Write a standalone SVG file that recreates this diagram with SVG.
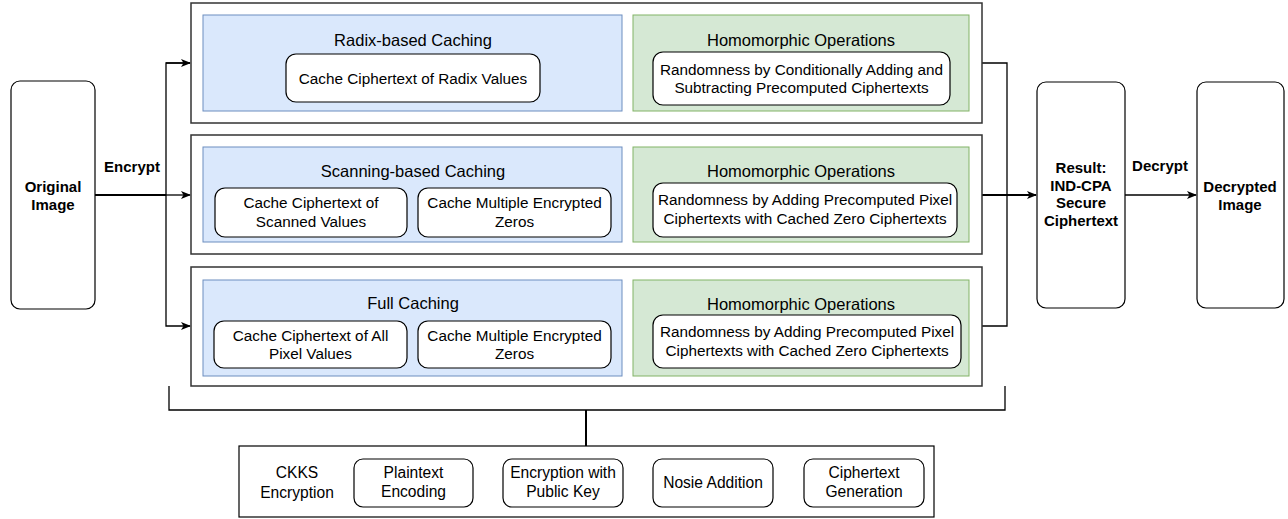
<svg xmlns="http://www.w3.org/2000/svg" width="1288" height="519" viewBox="0 0 1288 519">
<defs>
<style>
.outer{fill:#fff;stroke:#333;stroke-width:1.5}
.blue{fill:#dae8fc;stroke:#6c8ebf;stroke-width:1}
.green{fill:#d5e8d4;stroke:#82b366;stroke-width:1}
.rb{fill:#fff;stroke:#000;stroke-width:1.2}
.big{fill:#fff;stroke:#000;stroke-width:1.2}
.t{font-family:"Liberation Sans",Arial,sans-serif;fill:#000;text-anchor:middle}
.title{font-size:16.5px}
.inner{font-size:15.3px}
.small{font-size:15.6px}
.bold{font-size:15px;font-weight:bold}
.ln{fill:none;stroke:#000;stroke-width:1.3}
.lnb{fill:none;stroke:#000;stroke-width:2}
</style>
<marker id="arr" viewBox="0 0 10 10" refX="9" refY="5" markerWidth="10" markerHeight="10" markerUnits="userSpaceOnUse" orient="auto">
<path d="M0,1 L10,5 L0,9 L2.5,5 Z" fill="#000"/>
</marker>
</defs>

<g id="connectors">
<line class="lnb" x1="95" y1="195" x2="166" y2="195"/>
<line class="ln" x1="166" y1="195" x2="190" y2="195" marker-end="url(#arr)"/>
<polyline class="ln" points="190,63 166,63 166,326 190,326" marker-end="url(#arr)"/>
<line class="ln" x1="166" y1="63" x2="190" y2="63" marker-end="url(#arr)"/>
<polyline class="ln" points="982,63 1007,63 1007,326 982,326"/>
<line class="lnb" x1="982" y1="195" x2="1036" y2="195" marker-end="url(#arr)"/>
<line class="ln" x1="1125" y1="195" x2="1196" y2="195" marker-end="url(#arr)"/>
<polyline class="ln" points="169,386 169,410 1005,410 1005,386"/>
<line class="lnb" x1="586" y1="410" x2="586" y2="446"/>
<text class="t bold" x="132" y="172">Encrypt</text>
<text class="t bold" x="1160" y="171">Decrypt</text>
</g>

<g id="original">
<rect class="big" x="11" y="81" width="84" height="228" rx="9"/>
<text class="t bold" x="53" y="192">Original</text>
<text class="t bold" x="53" y="210">Image</text>
</g>

<g id="row1">
<rect class="outer" x="191" y="3" width="791" height="120"/>
<rect class="blue" x="203" y="15" width="419" height="96"/>
<text class="t title" x="413" y="46">Radix-based Caching</text>
<rect class="rb" x="286" y="54" width="254" height="48" rx="10"/>
<text class="t inner" x="413" y="84">Cache Ciphertext of Radix Values</text>
<rect class="green" x="633" y="15" width="336" height="96"/>
<text class="t title" x="801" y="46">Homomorphic Operations</text>
<rect class="rb" x="653" y="52" width="297" height="53" rx="10"/>
<text class="t inner" x="801.5" y="75">Randomness by Conditionally Adding and</text>
<text class="t inner" x="801.5" y="93">Subtracting Precomputed Ciphertexts</text>
</g>

<g id="row2">
<rect class="outer" x="191" y="135" width="791" height="119"/>
<rect class="blue" x="203" y="147" width="419" height="95"/>
<text class="t title" x="413" y="177">Scanning-based Caching</text>
<rect class="rb" x="215" y="188" width="192" height="49" rx="10"/>
<text class="t inner" x="311" y="208">Cache Ciphertext of</text>
<text class="t inner" x="311" y="227">Scanned Values</text>
<rect class="rb" x="418" y="188" width="193" height="49" rx="10"/>
<text class="t inner" x="514.5" y="208">Cache Multiple Encrypted</text>
<text class="t inner" x="514.5" y="227">Zeros</text>
<rect class="green" x="633" y="147" width="336" height="95"/>
<text class="t title" x="801" y="177">Homomorphic Operations</text>
<rect class="rb" x="653" y="183" width="304" height="54" rx="10"/>
<text class="t inner" x="805" y="205">Randomness by Adding Precomputed Pixel</text>
<text class="t inner" x="805" y="224">Ciphertexts with Cached Zero Ciphertexts</text>
</g>

<g id="row3">
<rect class="outer" x="191" y="267" width="791" height="119"/>
<rect class="blue" x="203" y="280" width="419" height="96"/>
<text class="t title" x="413" y="309">Full Caching</text>
<rect class="rb" x="214" y="321" width="193" height="47" rx="10"/>
<text class="t inner" x="310.5" y="341">Cache Ciphertext of All</text>
<text class="t inner" x="310.5" y="359">Pixel Values</text>
<rect class="rb" x="418" y="321" width="193" height="47" rx="10"/>
<text class="t inner" x="514.5" y="341">Cache Multiple Encrypted</text>
<text class="t inner" x="514.5" y="359">Zeros</text>
<rect class="green" x="633" y="280" width="336" height="96"/>
<text class="t title" x="801" y="310">Homomorphic Operations</text>
<rect class="rb" x="653" y="315" width="308" height="53" rx="10"/>
<text class="t inner" x="807" y="337">Randomness by Adding Precomputed Pixel</text>
<text class="t inner" x="807" y="356">Ciphertexts with Cached Zero Ciphertexts</text>
</g>

<g id="result">
<rect class="big" x="1037" y="82" width="88" height="226" rx="9"/>
<text class="t bold" x="1081" y="173">Result:</text>
<text class="t bold" x="1081" y="191">IND-CPA</text>
<text class="t bold" x="1081" y="208">Secure</text>
<text class="t bold" x="1081" y="226">Ciphertext</text>
</g>

<g id="decrypted">
<rect class="big" x="1197" y="82" width="87" height="226" rx="9"/>
<text class="t bold" x="1240" y="192">Decrypted</text>
<text class="t bold" x="1240" y="210">Image</text>
</g>

<g id="ckks">
<rect class="big" x="239" y="446" width="695" height="71"/>
<text class="t small" x="297" y="478">CKKS</text>
<text class="t small" x="297" y="498">Encryption</text>
<rect class="rb" x="354" y="459" width="119" height="48" rx="9"/>
<text class="t small" x="413.5" y="478">Plaintext</text>
<text class="t small" x="413.5" y="497">Encoding</text>
<rect class="rb" x="503" y="459" width="120" height="48" rx="9"/>
<text class="t small" x="563" y="478">Encryption with</text>
<text class="t small" x="563" y="497">Public Key</text>
<rect class="rb" x="653" y="459" width="120" height="48" rx="9"/>
<text class="t small" x="713" y="488">Nosie Addition</text>
<rect class="rb" x="804" y="459" width="120" height="48" rx="9"/>
<text class="t small" x="864" y="478">Ciphertext</text>
<text class="t small" x="864" y="497">Generation</text>
</g>
</svg>
